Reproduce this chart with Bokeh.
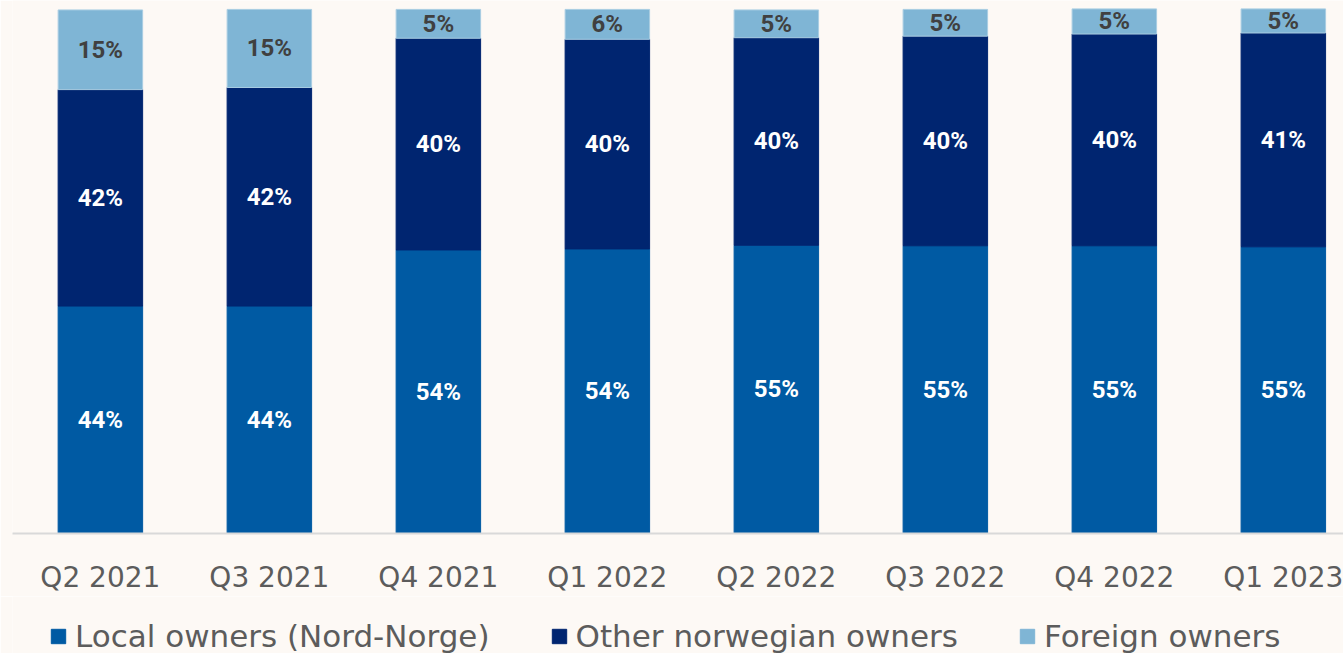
from bokeh.plotting import figure
from bokeh.layouts import column
from bokeh.models import ColumnDataSource, Range1d, Legend, LegendItem, FixedTicker
from bokeh.core.properties import value
from bokeh.embed import file_html
from bokeh.resources import INLINE

quarters = ["Q2 2021", "Q3 2021", "Q4 2021", "Q1 2022", "Q2 2022", "Q3 2022", "Q4 2022", "Q1 2023"]
local = [43.4, 43.4, 54.1, 54.3, 55.0, 54.9, 54.9, 54.7]
other = [41.3, 41.7, 40.4, 40.0, 39.6, 40.0, 40.4, 40.8]
foreign = [15.2, 14.9, 5.5, 5.7, 5.3, 5.1, 4.8, 4.6]
local_lbl = [44, 44, 54, 54, 55, 55, 55, 55]
other_lbl = [42, 42, 40, 40, 40, 40, 40, 41]
foreign_lbl = [15, 15, 5, 6, 5, 5, 5, 5]
series_names = ["Local owners (Nord-Norge)", "Other norwegian owners", "Foreign owners"]
colors = ["#005AA3", "#002570", "#7FB5D5"]

BG = "#FDF9F5"
TXT = "#5C5C5C"
xs = list(range(len(quarters)))
src = ColumnDataSource(dict(x=xs, local=local, other=other, foreign=foreign))

p = figure(width=1343, height=596, output_backend="svg", toolbar_location=None,
           x_range=Range1d(-0.52, 7.356), y_range=Range1d(0, 101.7),
           y_axis_location=None,
           min_border_left=12, min_border_right=0, min_border_top=0, min_border_bottom=0)
p.background_fill_color = BG
p.border_fill_color = BG
p.outline_line_color = None
p.grid.visible = False

rs = p.vbar_stack(["local", "other", "foreign"], x="x", width=0.5, source=src,
                  color=colors, line_color=[colors[0], colors[1], "#A9CDE2"], line_width=1)

# segment labels
loc_y = [l / 2 for l in local]
oth_y = [l + o / 2 for l, o in zip(local, other)]
for_y = [l + o + f / 2 for l, o, f in zip(local, other, foreign)]
lab_font = value("Roboto")
for ys, lbls, col in ((loc_y, local_lbl, "white"), (oth_y, other_lbl, "white"), (for_y, foreign_lbl, "#404040")):
    p.text(x=xs, y=ys, text=[f"{v}%" for v in lbls], text_align="center", text_baseline="middle",
           text_font=lab_font, text_font_style="bold", text_font_size="24px", text_color=col)

ax = p.xaxis[0]
ax.ticker = FixedTicker(ticks=xs)
ax.major_label_overrides = {i: q for i, q in zip(xs, quarters)}
ax.major_tick_line_color = None
ax.minor_tick_line_color = None
ax.axis_line_color = "#D9D9D9"
ax.axis_line_width = 2
ax.major_label_text_font = "DejaVu Sans"
ax.major_label_text_font_size = "28px"
ax.major_label_text_color = TXT
ax.major_label_standoff = 21

# legend strip
leg = figure(width=1343, height=57, output_backend="svg", toolbar_location=None,
             x_range=Range1d(0, 1), y_range=Range1d(0, 1),
             x_axis_location=None, y_axis_location=None,
             min_border_left=12, min_border_right=0, min_border_top=0, min_border_bottom=0)
leg.background_fill_color = BG
leg.border_fill_color = BG
leg.outline_line_color = None
leg.grid.visible = False
dummies = [leg.vbar(x=[-10], top=[0], width=0.1, fill_color=c, line_color=c) for c in colors]
legend = Legend(items=[LegendItem(label=n, renderers=[r]) for n, r in zip(series_names, dummies)],
                orientation="horizontal", location=(37, -1))
legend.glyph_width = 18
legend.glyph_height = 18
legend.label_text_font = "DejaVu Sans"
legend.label_text_font_size = "31px"
legend.label_text_color = TXT
legend.label_standoff = 8
legend.spacing = 60
legend.padding = 0
legend.margin = 0
legend.background_fill_alpha = 0
legend.border_line_color = None
leg.add_layout(legend, "center")

layout = column(p, leg, spacing=0)
open("out.html", "w").write(file_html(layout, INLINE))
